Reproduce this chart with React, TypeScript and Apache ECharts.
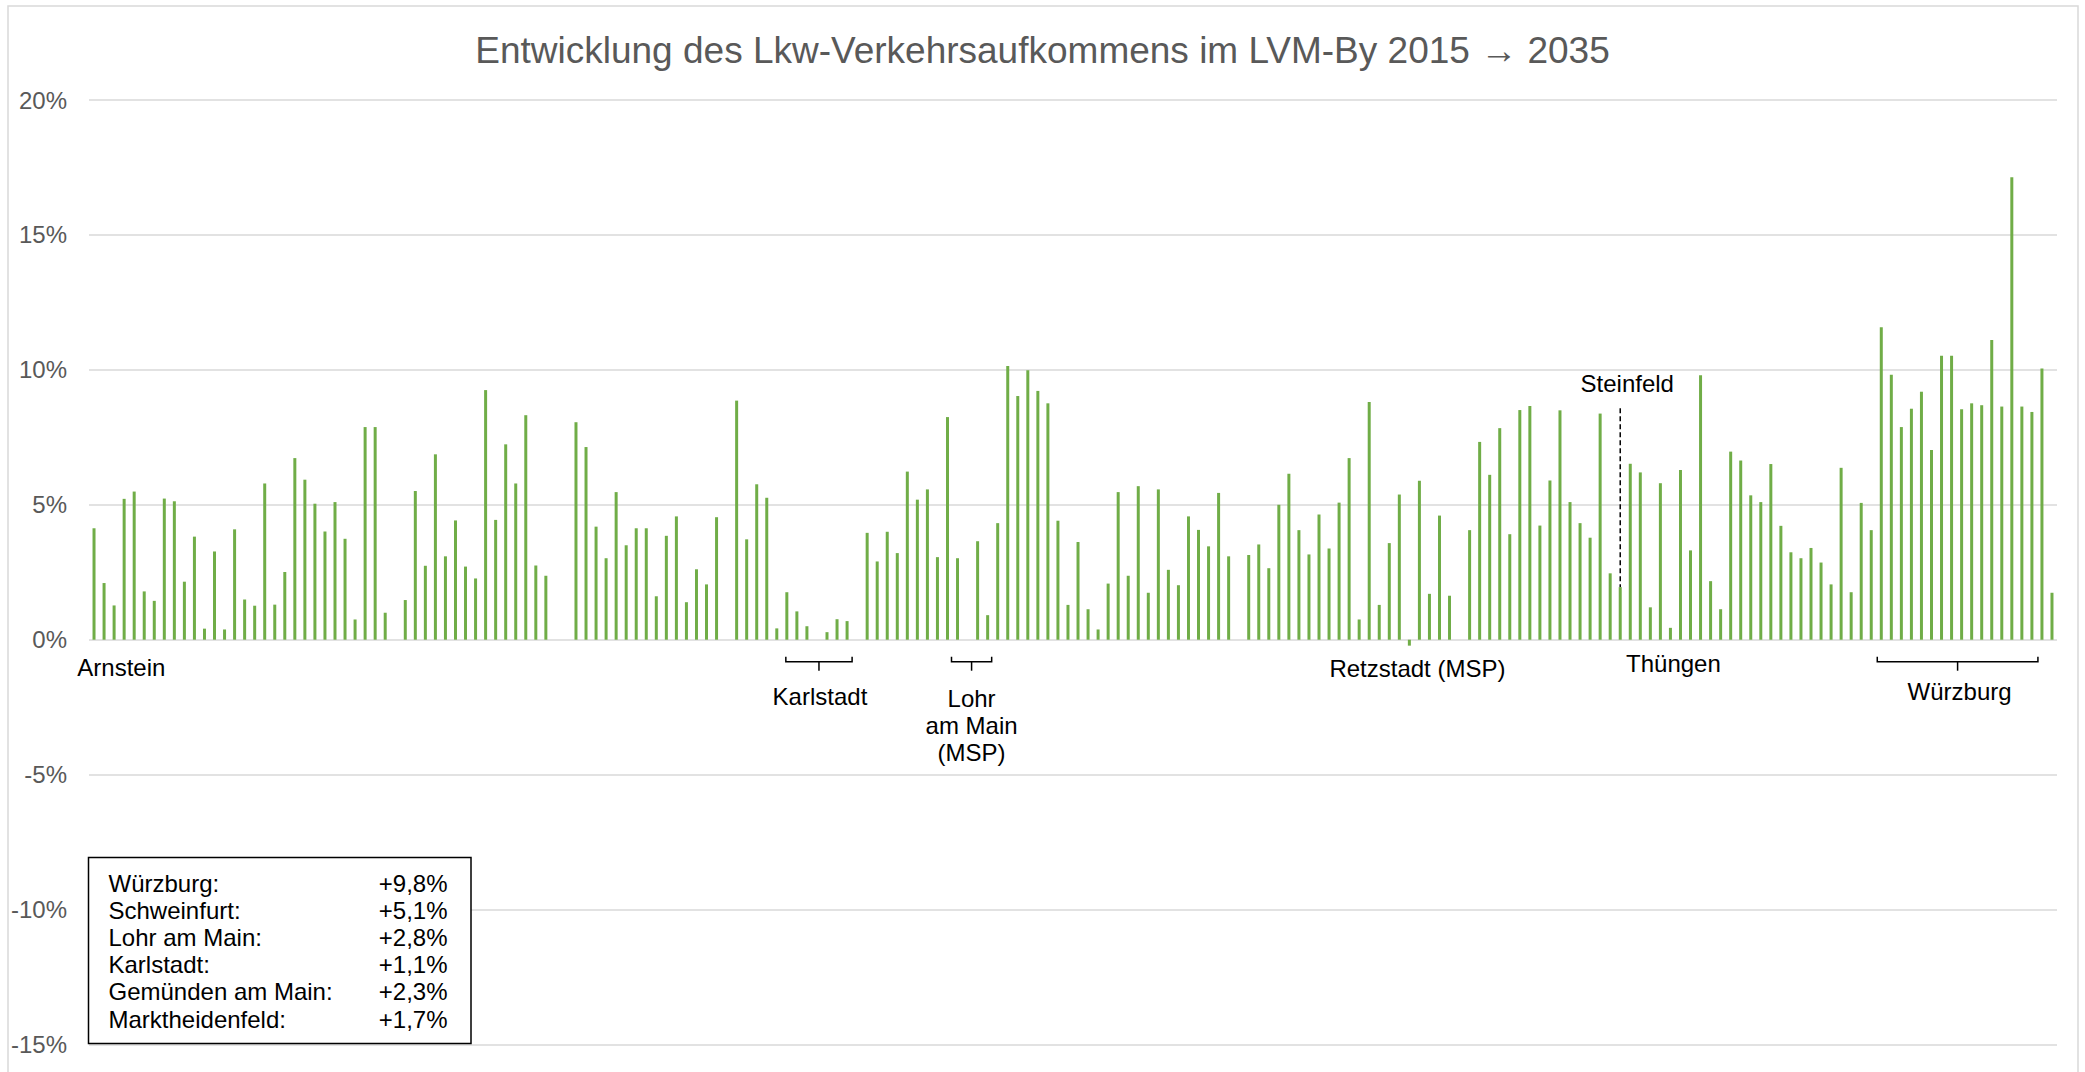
import React, { useEffect, useRef } from "react";
import * as echarts from "echarts";

const TITLE = "Entwicklung des Lkw-Verkehrsaufkommens im LVM-By 2015 → 2035";

// Percent change per counting point (null = no value at that slot)
const values: (number | null)[] = [
  4.13, 2.10, 1.27, 5.22, 5.49, 1.79, 1.44, 5.23, 5.13, 2.15,
  3.82, 0.41, 3.27, 0.38, 4.09, 1.49, 1.26, 5.79, 1.30, 2.51,
  6.73, 5.93, 5.04, 4.01, 5.10, 3.74, 0.75, 7.88, 7.88, 1.00,
  null, 1.47, 5.51, 2.74, 6.87, 3.09, 4.42, 2.71, 2.27, 9.25,
  4.44, 7.24, 5.79, 8.32, 2.75, 2.37, null, null, 8.06, 7.14,
  4.19, 3.02, 5.47, 3.50, 4.13, 4.13, 1.61, 3.85, 4.57, 1.39,
  2.61, 2.05, 4.54, null, 8.86, 3.72, 5.76, 5.26, 0.42, 1.76,
  1.05, 0.50, null, 0.28, 0.76, 0.69, null, 3.96, 2.90, 4.00,
  3.21, 6.23, 5.19, 5.57, 3.06, 8.25, 3.02, null, 3.65, 0.91,
  4.32, 10.14, 9.03, 9.99, 9.22, 8.76, 4.41, 1.29, 3.62, 1.13,
  0.38, 2.08, 5.47, 2.37, 5.69, 1.74, 5.57, 2.59, 2.02, 4.57,
  4.07, 3.46, 5.44, 3.09, null, 3.14, 3.53, 2.65, 5.00, 6.15,
  4.06, 3.16, 4.64, 3.38, 5.08, 6.73, 0.75, 8.81, 1.29, 3.58,
  5.38, -0.22, 5.89, 1.70, 4.60, 1.63, null, 4.06, 7.33, 6.11,
  7.84, 3.91, 8.51, 8.66, 4.23, 5.90, 8.50, 5.10, 4.32, 3.78,
  8.38, 2.46, 1.95, 6.52, 6.20, 1.20, 5.80, 0.44, 6.29, 3.31,
  9.80, 2.17, 1.13, 6.97, 6.64, 5.35, 5.10, 6.51, 4.22, 3.24,
  3.02, 3.40, 2.86, 2.05, 6.37, 1.76, 5.07, 4.06, 11.58, 9.82,
  7.88, 8.56, 9.19, 7.03, 10.52, 10.52, 8.54, 8.76, 8.69, 11.11,
  8.64, 17.14, 8.64, 8.44, 10.05, 1.74,
];

const categories: string[] = values.map((_, i) => String(i + 1));

const yTicks = { min: -15, max: 20, interval: 5 };

// Place labels: category index (0-based, fractional allowed)
const placeLabels = [
  { text: "Arnstein", at: -1.66, dy: 27.5, align: "left" },
  { text: "Karlstadt", at: 72.3, dy: 56.5, align: "center" },
  { text: "Lohr\nam Main\n(MSP)", at: 87.4, dy: 85.5, align: "center" },
  { text: "Retzstadt (MSP)", at: 131.8, dy: 28.5, align: "center" },
  { text: "Thüngen", at: 157.3, dy: 24, align: "center" },
  { text: "Würzburg", at: 185.8, dy: 51.5, align: "center" },
];

// Brackets: [start, end, centre] in category index
const brackets = [
  [68.9, 75.5, 72.2],
  [85.4, 89.4, 87.4],
  [177.6, 193.6, 185.6],
];

const steinfeld = { text: "Steinfeld", at: 152, labelAt: 152.7, labelValue: 9.5, lineTop: 8.58, lineBottom: 1.95 };

const legendNames = ["Würzburg:", "Schweinfurt:", "Lohr am Main:", "Karlstadt:", "Gemünden am Main:", "Marktheidenfeld:"];
const legendValues = ["+9,8%", "+5,1%", "+2,8%", "+1,1%", "+2,3%", "+1,7%"];

const FONT = "'Liberation Sans', Arial, Helvetica, sans-serif";

export default function App() {
  const ref = useRef<HTMLDivElement>(null);

  useEffect(() => {
    if (!ref.current) return;
    const chart = echarts.init(ref.current, undefined, { renderer: "svg" });
    chart.setOption({
      animation: false,
      backgroundColor: "#ffffff",
      title: {
        text: TITLE,
        left: "center",
        top: 27,
        textStyle: { fontSize: 37, fontWeight: "normal", color: "#595959", fontFamily: FONT },
      },
      grid: { left: 89, right: 28, top: 100, bottom: 27.5, containLabel: false, outerBoundsMode: "none" },
      xAxis: {
        type: "category",
        data: categories,
        axisLabel: { show: false },
        axisTick: { show: false },
        axisLine: { show: false },
        splitLine: { show: false },
      },
      yAxis: {
        type: "value",
        min: yTicks.min,
        max: yTicks.max,
        interval: yTicks.interval,
        axisLine: { show: false },
        axisTick: { show: false },
        axisLabel: { formatter: "{value}%", fontSize: 24, color: "#595959", fontFamily: FONT, margin: 22 },
        splitLine: { lineStyle: { color: "#d9d9d9", width: 1.5 } },
      },
      series: [
        {
          type: "bar",
          data: values,
          barWidth: 3,
          itemStyle: { color: "#70AD47" },
        },
      ],
    });

    const p0 = chart.convertToPixel({ xAxisIndex: 0 }, 0) as number;
    const p1 = chart.convertToPixel({ xAxisIndex: 0 }, 1) as number;
    const xPix = (i: number) => p0 + i * (p1 - p0);
    const yPix = (v: number) => chart.convertToPixel({ yAxisIndex: 0 }, v) as number;
    const y0 = yPix(0);

    const graphics: any[] = [];
    graphics.push({
      type: "rect",
      shape: { x: 8, y: 6, width: 2070, height: 1100 },
      style: { fill: "none", stroke: "#d9d9d9", lineWidth: 1.5 },
      silent: true,
      z: 0,
    });

    placeLabels.forEach((l) => {
      const lines = l.text.split("\n").length;
      graphics.push({
        type: "text",
        x: xPix(l.at),
        y: y0 + l.dy - ((lines - 1) * 27) / 2 + ((lines - 1) * 27) / 2,
        style: {
          text: l.text,
          fontSize: 24,
          fontFamily: FONT,
          fill: "#000000",
          align: l.align,
          verticalAlign: "middle",
          lineHeight: 27,
        },
        z: 10,
      });
    });

    brackets.forEach(([a, b, c]) => {
      const xa = xPix(a), xb = xPix(b), xc = xPix(c);
      graphics.push({
        type: "polyline",
        shape: { points: [[xa, y0 + 17], [xa, y0 + 22], [xb, y0 + 22], [xb, y0 + 17]] },
        style: { stroke: "#000000", lineWidth: 1.5, fill: "none" },
        z: 10,
      });
      graphics.push({
        type: "line",
        shape: { x1: xc, y1: y0 + 22, x2: xc, y2: y0 + 31 },
        style: { stroke: "#000000", lineWidth: 1.5 },
        z: 10,
      });
    });

    graphics.push({
      type: "line",
      shape: { x1: xPix(steinfeld.at), y1: yPix(steinfeld.lineTop), x2: xPix(steinfeld.at), y2: yPix(steinfeld.lineBottom) },
      style: { stroke: "#000000", lineWidth: 1.5, lineDash: [5, 3] },
      z: 10,
    });
    graphics.push({
      type: "text",
      x: xPix(steinfeld.labelAt),
      y: yPix(steinfeld.labelValue),
      style: { text: steinfeld.text, fontSize: 24, fontFamily: FONT, fill: "#000000", align: "center", verticalAlign: "middle" },
      z: 10,
    });

    // Legend box
    graphics.push({
      type: "rect",
      shape: { x: 88.5, y: 857.5, width: 382.5, height: 186 },
      style: { fill: "#ffffff", stroke: "#000000", lineWidth: 1.5 },
      z: 20,
    });
    legendNames.forEach((n, k) => {
      const y = 883.5 + k * 27.1;
      graphics.push({
        type: "text",
        x: 108.5,
        y,
        style: { text: n, fontSize: 24, fontFamily: FONT, fill: "#000000", align: "left", verticalAlign: "middle" },
        z: 21,
      });
      graphics.push({
        type: "text",
        x: 447.5,
        y,
        style: { text: legendValues[k], fontSize: 24, fontFamily: FONT, fill: "#000000", align: "right", verticalAlign: "middle" },
        z: 21,
      });
    });

    chart.setOption({ graphic: graphics });

    return () => chart.dispose();
  }, []);

  return (
    <div
      ref={ref}
      style={{ position: "fixed", left: 0, top: 0, width: 2085, height: 1072 }}
    />
  );
}
